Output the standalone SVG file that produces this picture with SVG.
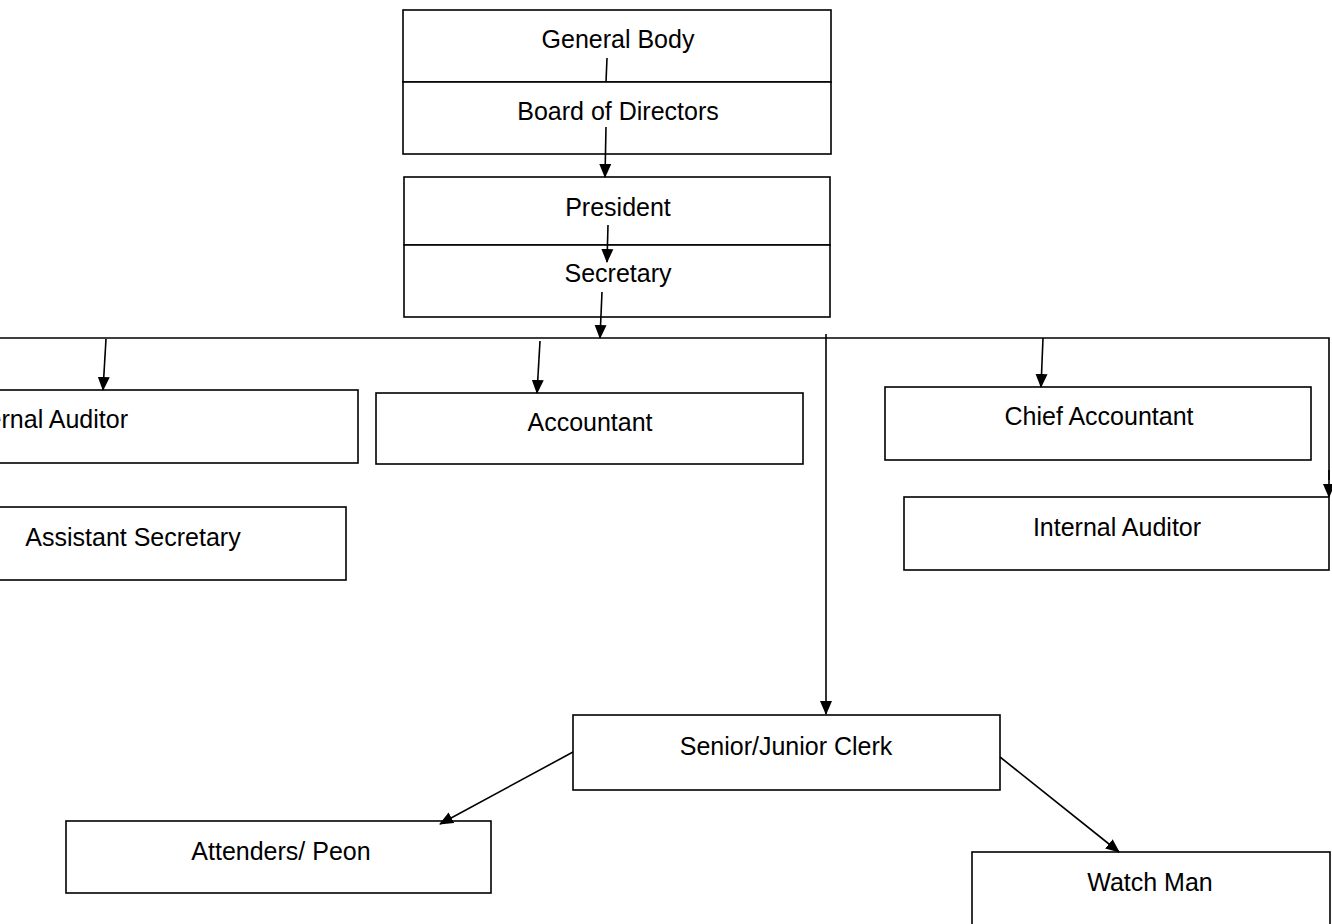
<svg xmlns="http://www.w3.org/2000/svg" width="1332" height="924" viewBox="0 0 1332 924">
<style>
.box{fill:#fff;stroke:#000;stroke-width:1.6}
.t{font-family:"Liberation Sans",Arial,sans-serif;font-size:25px;fill:#000;text-anchor:middle}
.c{fill:none;stroke:#000;stroke-width:1.6}
.a{fill:none;stroke:#000;stroke-width:1.6;marker-end:url(#ah)}
</style>
<defs>
<marker id="ah" markerUnits="userSpaceOnUse" markerWidth="14" markerHeight="14" viewBox="0 0 14 14" refX="13" refY="7" orient="auto">
<path d="M0,1 L14,7 L0,13 Z" fill="#000"/>
</marker>
</defs>
<rect width="1332" height="924" fill="#fff"/>
<g id="general-body"><rect class="box" x="403" y="10" width="428" height="72"/><text class="t" x="618" y="48">General Body</text></g>
<g id="board"><rect class="box" x="403" y="82" width="428" height="72"/><text class="t" x="618" y="120">Board of Directors</text></g>
<g id="president"><rect class="box" x="404" y="177" width="426" height="68"/><text class="t" x="618" y="216">President</text></g>
<g id="secretary"><rect class="box" x="404" y="245" width="426" height="72"/><text class="t" x="618" y="282">Secretary</text></g>
<g id="internal-auditor-left"><rect class="box" x="-270" y="390" width="628" height="73"/><text class="t" x="128" y="428" style="text-anchor:end">Internal Auditor</text></g>
<g id="accountant"><rect class="box" x="376" y="393" width="427" height="71"/><text class="t" x="590" y="431">Accountant</text></g>
<g id="assistant-secretary"><rect class="box" x="-90" y="507" width="436" height="73"/><text class="t" x="133" y="546">Assistant Secretary</text></g>
<g id="chief-accountant"><rect class="box" x="885" y="387" width="426" height="73"/><text class="t" x="1099" y="425">Chief Accountant</text></g>
<g id="internal-auditor-right"><rect class="box" x="904" y="497" width="425" height="73"/><text class="t" x="1117" y="536">Internal Auditor</text></g>
<g id="clerk"><rect class="box" x="573" y="715" width="427" height="75"/><text class="t" x="786" y="755">Senior/Junior Clerk</text></g>
<g id="attenders"><rect class="box" x="66" y="821" width="425" height="72"/><text class="t" x="281" y="860">Attenders/ Peon</text></g>
<g id="watchman"><rect class="box" x="972" y="852" width="358" height="80"/><text class="t" x="1150" y="891">Watch Man</text></g>
<g id="connectors">
<line class="c" x1="607" y1="58" x2="606" y2="82"/>
<line class="a" x1="606" y1="127" x2="605" y2="177"/>
<line class="a" x1="608" y1="225" x2="607" y2="262"/>
<line class="a" x1="602" y1="292" x2="600" y2="338"/>
<polyline class="c" points="0,338 1329,338 1329,480"/>
<line class="a" x1="1329" y1="470" x2="1329" y2="497"/>
<line class="a" x1="106" y1="339" x2="103" y2="390"/>
<line class="a" x1="540" y1="341" x2="537" y2="393"/>
<line class="a" x1="1043" y1="338" x2="1041" y2="387"/>
<line class="a" x1="826" y1="334" x2="826" y2="714"/>
<line class="a" x1="573" y1="752" x2="440" y2="824"/>
<line class="a" x1="1000" y1="757" x2="1119" y2="852"/>
</g>
</svg>
